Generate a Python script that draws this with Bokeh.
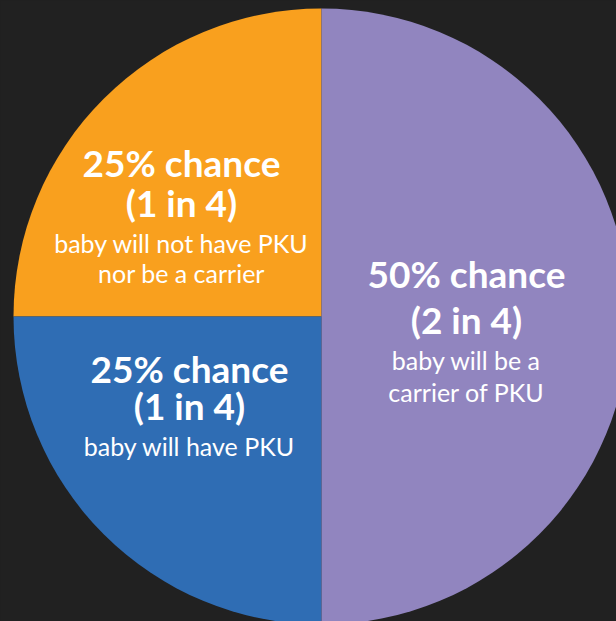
import numpy as np
from bokeh.plotting import figure
from bokeh.models import ColumnDataSource, Range1d
from bokeh.core.properties import value
from bokeh.embed import file_html
from bokeh.resources import INLINE

# ---- data ----
categories = ["not PKU, not carrier", "has PKU", "carrier"]
shares = [25, 25, 50]
colors = ["#F9A01E", "#2F6DB4", "#9185BF"]
titles = ["25% chance", "25% chance", "50% chance"]
odds = ["(1 in 4)", "(1 in 4)", "(2 in 4)"]
notes = [["baby will not have PKU", "nor be a carrier"],
         ["baby will have PKU"],
         ["baby will be a", "carrier of PKU"]]

W, H = 616, 621
BG = "#212121"

p = figure(width=W, height=H, output_backend="svg", toolbar_location=None,
           x_range=Range1d(0, W), y_range=Range1d(0, H),
           min_border=0, background_fill_color=BG, border_fill_color=BG,
           outline_line_color=None)
p.axis.visible = False
p.grid.visible = False

cx, cy, r = 321, H - 316, 308
frac = np.array(shares) / np.sum(shares)
ends = np.pi / 2 + 2 * np.pi * np.cumsum(frac)
starts = ends - 2 * np.pi * frac
src = ColumnDataSource(dict(start=starts, end=ends, color=colors, cat=categories))
p.wedge(x=cx, y=cy, radius=r, start_angle="start", end_angle="end",
        fill_color="color", line_color=None, source=src)

# label layout (pixel positions from top-left): x center, baselines
layout = [
    (181, [162, 202], [242, 272]),
    (189, [368, 405], [445]),
    (466, [273, 319], [359, 391]),
]

tx, ty, tt = [], [], []
sx, sy, st = [], [], []
for i, (x, (b1, b2), nb) in enumerate(layout):
    tx += [x, x]
    ty += [H - b1, H - b2]
    tt += [titles[i], odds[i]]
    for line, b in zip(notes[i], nb):
        sx.append(x)
        sy.append(H - b)
        st.append(line)

p.text(x=tx, y=ty, text=tt, text_font=value("Lato"), text_font_style="bold",
       text_font_size="37px", text_color="white", text_align="center",
       text_baseline="alphabetic")
p.text(x=sx, y=sy, text=st, text_font=value("Lato"),
       text_font_size="25px", text_color="white", text_align="center",
       text_baseline="alphabetic")

html = file_html(p, INLINE)
html = html.replace("</head>",
                    "<style>html,body{margin:0;padding:0;background:%s;overflow:hidden}</style></head>" % BG, 1)
open("out.html", "w").write(html)
